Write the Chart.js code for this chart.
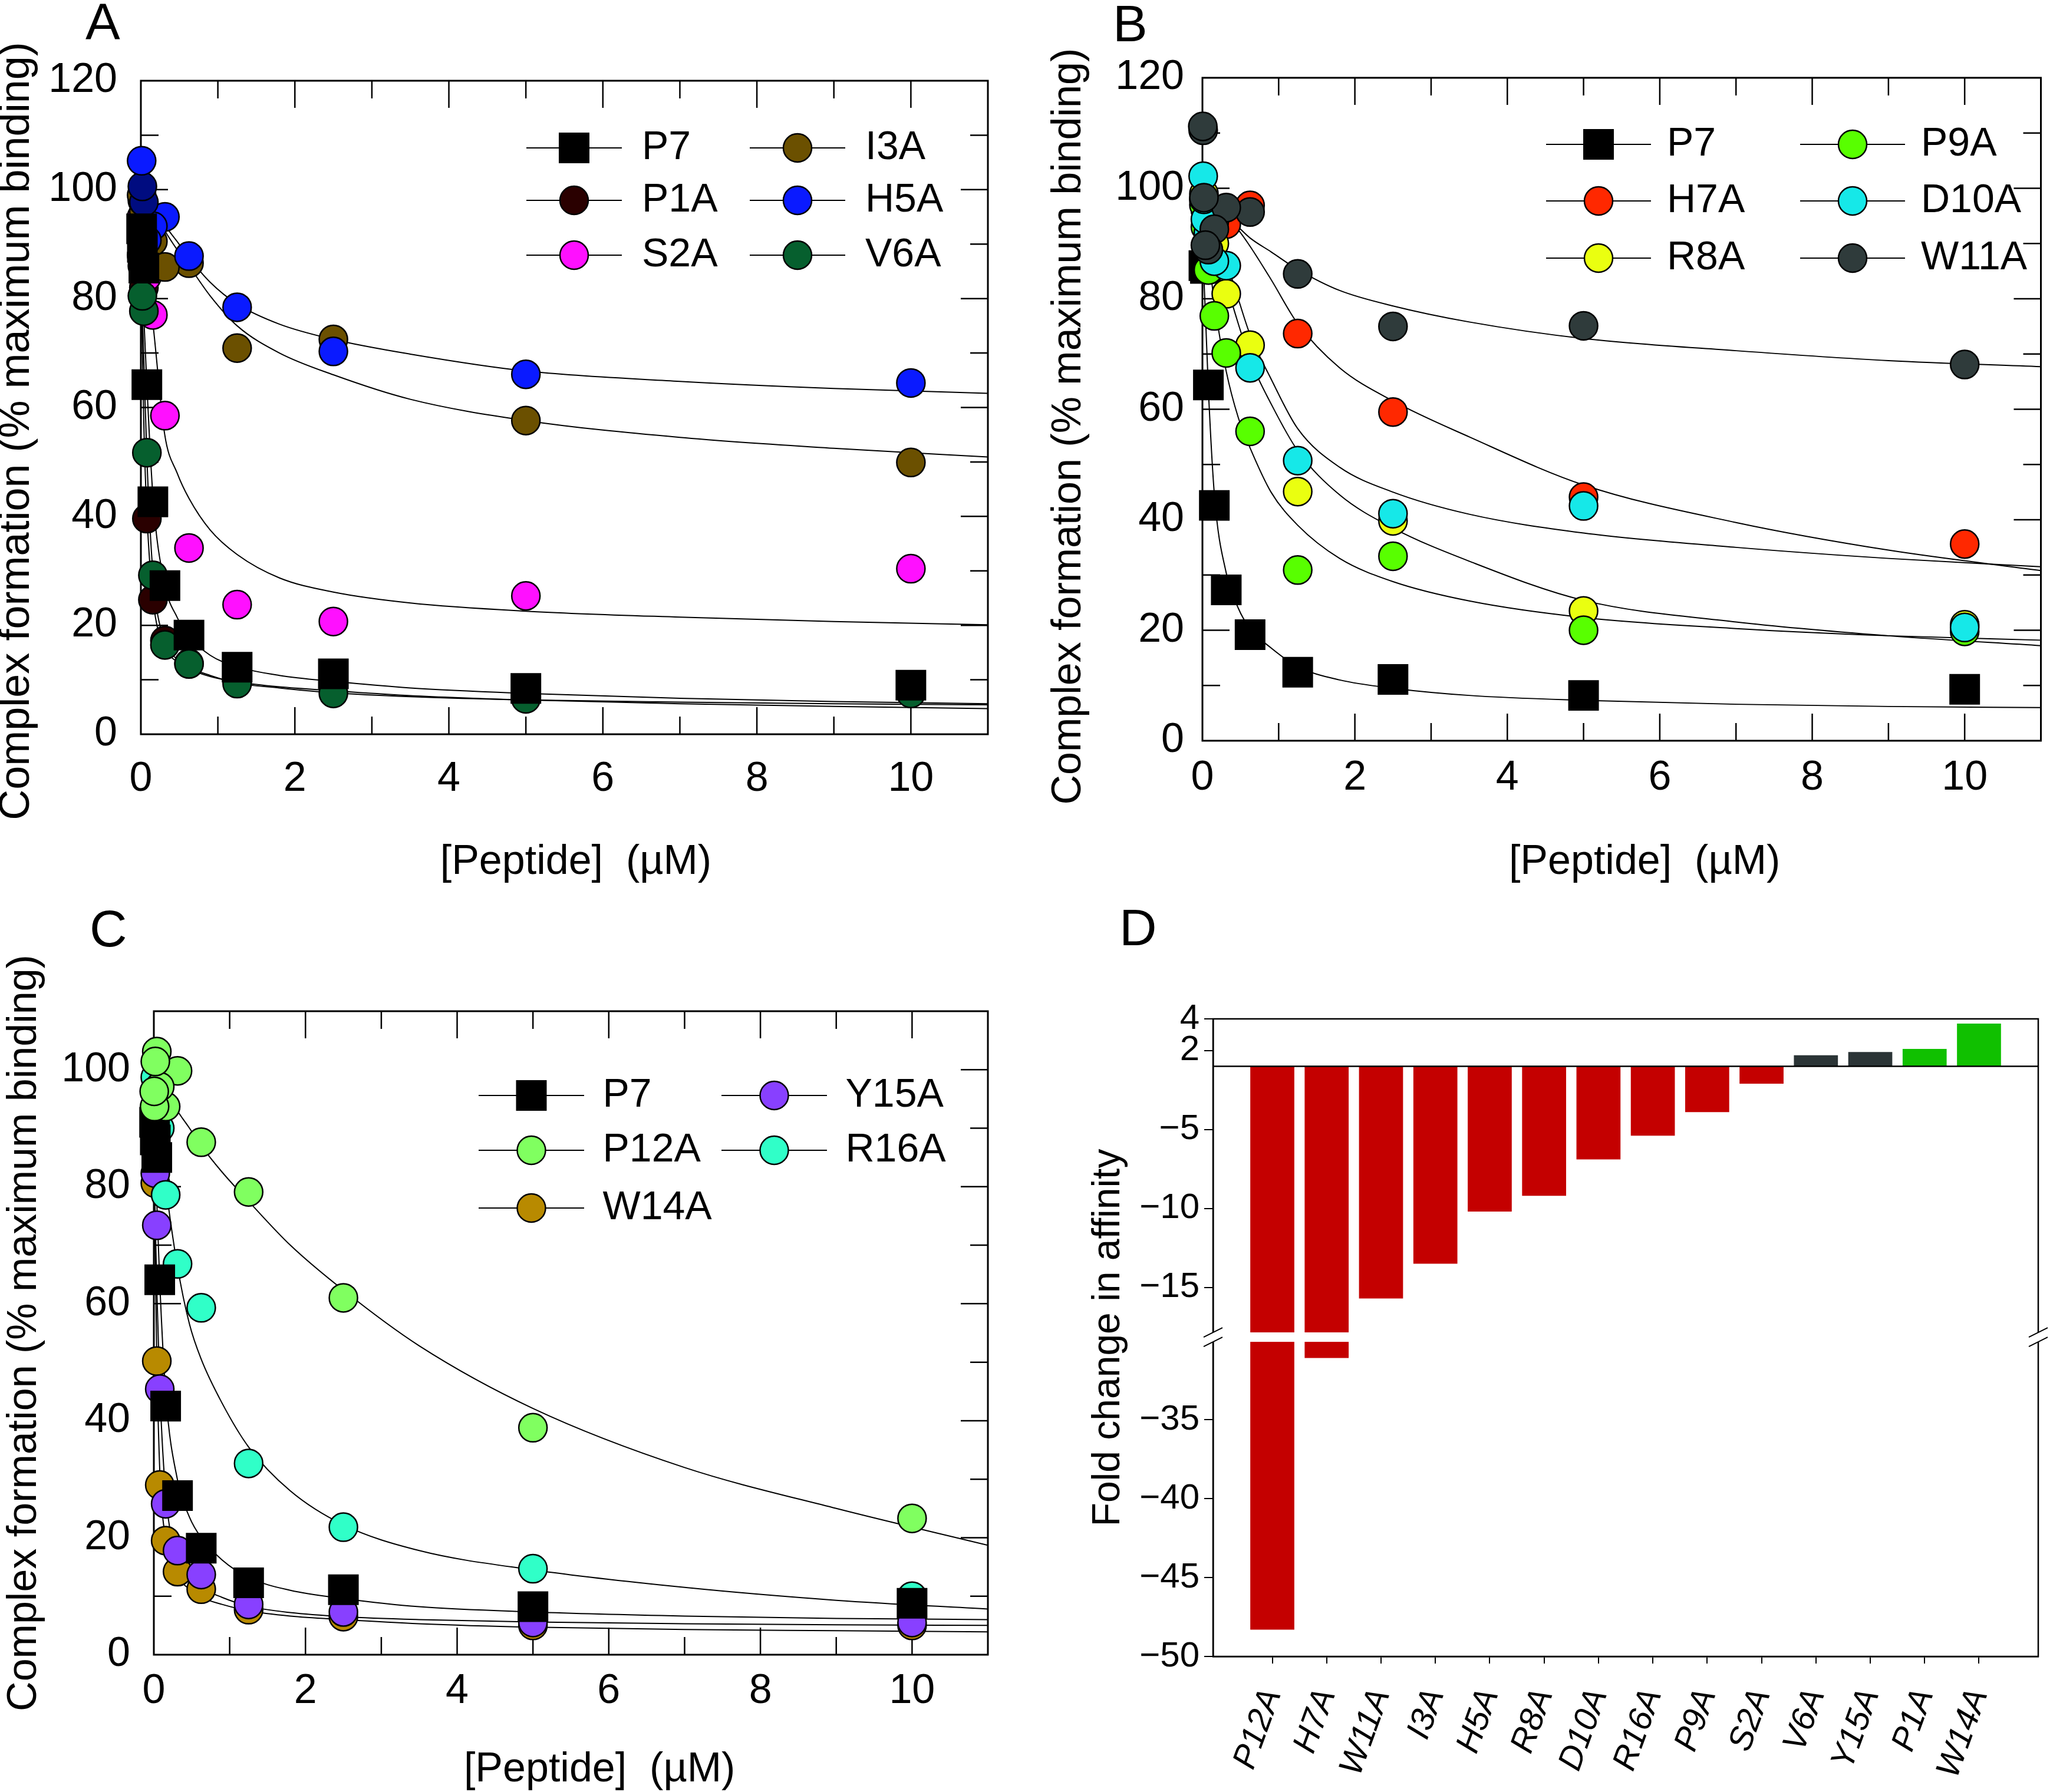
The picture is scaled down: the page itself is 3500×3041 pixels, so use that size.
<!DOCTYPE html>
<html>
<head>
<meta charset="utf-8">
<script src="https://cdn.jsdelivr.net/npm/chart.js@4.4.1/dist/chart.umd.min.js"></script>
<style>
  body { margin: 0; background: #fff; width: 3500px; height: 3041px; position: relative; overflow: hidden;
         font-family: "Liberation Sans", Arial, Helvetica, sans-serif; }
  .panel { position: absolute; }
  .tag { position: absolute; font-size: 88px; line-height: 88px; color: #000; }
</style>
</head>
<body>
<div class="panel" style="left:0px;top:0px"><canvas id="chartA" width="1750" height="1500"></canvas></div>
<div class="panel" style="left:1750px;top:0px"><canvas id="chartB" width="1750" height="1500"></canvas></div>
<div class="panel" style="left:0px;top:1500px"><canvas id="chartC" width="1750" height="1541"></canvas></div>
<div class="panel" style="left:1750px;top:1500px"><canvas id="chartD" width="1750" height="1541"></canvas></div>
<div class="tag" style="left:145px;top:-7px">A</div>
<div class="tag" style="left:1888px;top:-4px">B</div>
<div class="tag" style="left:152px;top:1532px">C</div>
<div class="tag" style="left:1899px;top:1530px">D</div>

<script>
// peptide concentrations (uM), highest first
const concentrations = [10, 5, 2.5, 1.25, 0.625, 0.3125, 0.156, 0.078, 0.039, 0.0195, 0.0098, 0.0049];
const fitX = [0, 0.04, 0.08, 0.16, 0.31, 0.47, 0.625, 0.9, 1.25, 1.8, 2.5, 3.5, 5, 7, 9, 11];

// Panel A - measured points
const aP7  = [9.0, 8.4, 11.1, 12.3, 18.2, 27.3, 42.7, 64.2, 85.6, 89.4, 92.8, null];
const aP1A = [8.0, 8.0, 9.0, 10.5, 13.0, 17.2, 24.7, 39.6, 82, 86, 88, null];
const aS2A = [30.4, 25.4, 20.7, 23.8, 34.2, 58.5, 77.0, 84, 88, 92, 95, null];
const aI3A = [49.9, 57.6, 72.5, 70.9, 86.5, 85.8, 90.5, 93, 96, 98, 99, null];
const aH5A = [64.5, 66.1, 70.3, 78.4, 87.8, 95.0, 93.3, 90.7, 97.7, 100.6, 105.3, null];
const aV6A = [7.5, 6.5, 7.5, 9.3, 12.9, 16.4, 29.2, 51.7, 77.7, 80.5, null, null];
// Panel A - fitted curves
const fitAP7  = [91, 76, 63.5, 43, 27.5, 21.5, 18, 14.5, 12.4, 10.8, 9.7, 8.5, 7.5, 6.6, 6.0, 5.6];
const fitAP1A = [86, 56, 40, 24.5, 16, 13.3, 12, 10.6, 9.6, 8.7, 8.0, 7.1, 6.3, 5.6, 5.1, 4.7];
const fitAS2A = [97, 92, 85, 75, 55, 48, 43.3, 37.5, 33, 28.7, 26.1, 24.1, 22.6, 21.5, 20.7, 20.1];
const fitAI3A = [100, 99.5, 98.5, 96.5, 92.5, 89, 86, 80.5, 75, 70, 66, 61.5, 57.6, 54.5, 52.5, 50.9];
const fitAH5A = [101, 100, 99, 97, 93.5, 90.5, 87.5, 83, 79, 75.3, 72.5, 69.8, 66.7, 64.8, 63.5, 62.6];
const fitAV6A = [86, 68, 50, 29, 17, 13.8, 12.3, 10.8, 9.4, 8.5, 7.6, 6.9, 6.3, 5.9, 5.6, 5.4];

// Panel B - measured points
const bP7   = [9.3, 8.2, 11.1, 12.4, 19.2, 27.3, 42.6, 64.4, 85.5, 86, null, null];
const bH7A  = [35.6, 44.1, 59.5, 73.7, 96.9, 93.5, 94, 96, 97, 98, null, null];
const bR8A  = [21.0, 23.5, 39.8, 45.1, 71.6, 80.9, 90, 92, 96, 99, null, null];
const bP9A  = [19.8, 20.0, 33.4, 30.9, 56.0, 70.2, 76.9, 85.2, 93, 97, null, null];
const bD10A = [20.5, 42.5, 41.1, 50.7, 67.5, 86.0, 86.8, 92, 94.4, 98, 102.2, null];
const bW11A = [68.1, 75.1, 75.0, 84.5, 95.7, 96.5, 92.6, 88.9, 89.7, 98.3, 110.5, 111.2];
// Panel B - fitted curves
const fitBP7   = [90, 77, 63, 44, 30.5, 24, 20.3, 16.8, 13.4, 11, 9.5, 8.2, 7.3, 6.6, 6.2, 6.0];
const fitBH7A  = [98, 97.8, 97.5, 97, 95, 92.5, 89.5, 83.5, 75.5, 67.5, 61.5, 55, 46.3, 39.5, 34.5, 30.8];
const fitBR8A  = [98, 96.5, 95, 91, 83, 75.5, 69, 61, 52.5, 44.5, 38.5, 32.5, 25.4, 21.5, 19, 17.2];
const fitBP9A  = [97, 93, 88, 79, 67, 58.5, 53, 45, 39, 33, 28.8, 25.3, 22.3, 20.3, 19, 18.2];
const fitBD10A = [98, 97, 96, 93.5, 87, 80, 73.5, 65.5, 56.5, 49.5, 45, 41, 37.6, 35, 33, 31.5];
const fitBW11A = [99, 98.7, 98.3, 97.3, 95.2, 93, 91, 88.5, 85.3, 81.5, 78.7, 75.8, 72.8, 70.6, 68.8, 67.7];

// Panel C - measured points
const cP7   = [8.8, 8.2, 11.1, 12.3, 18.2, 27.2, 42.5, 64.1, 85, 88, 91, null];
const cP12A = [23.3, 38.8, 61.0, 79.1, 87.6, 99.8, 93.7, 97.1, 103.1, 101.4, 93.7, 96.3];
const cW14A = [5.0, 5.0, 6.5, 7.7, 11.2, 14.2, 19.5, 29.0, 50.2, 80.6, null, null];
const cY15A = [5.5, 5.5, 7.3, 8.6, 13.7, 17.8, 25.8, 45.4, 73.4, 82.3, null, null];
const cR16A = [10.0, 14.7, 21.8, 32.7, 59.3, 66.8, 78.6, 90, 95, 98.7, null, null];
// Panel C - fitted curves
const fitCP7   = [90, 77, 63, 44, 30, 23.5, 20, 16.2, 13.2, 11, 9.6, 8.2, 7.3, 6.6, 6.2, 6.0];
const fitCP12A = [100, 99.5, 98.5, 96.5, 93, 90, 87, 82.5, 77.5, 70, 62.3, 52.8, 42.1, 32, 25, 18.7];
const fitCW14A = [84, 50, 31, 19.5, 13.5, 11.2, 9.8, 8.6, 7.5, 6.6, 6.0, 5.3, 4.7, 4.3, 4.1, 3.9];
const fitCY15A = [85, 62, 45, 27, 17, 13.5, 11.5, 9.8, 8.3, 7.2, 6.5, 6.0, 5.6, 5.3, 5.1, 5.0];
const fitCR16A = [100, 95, 90, 80, 66.5, 56.5, 50.5, 43, 35.5, 28, 22.2, 17.8, 14.5, 11.5, 9.3, 7.8];

// Panel D - fold change in affinity
const mutants = ["P12A", "H7A", "W11A", "I3A", "H5A", "R8A", "D10A", "R16A", "P9A", "S2A", "V6A", "Y15A", "P1A", "W14A"];
const foldChange = [-48.3, -31.1, -15.7, -13.5, -10.2, -9.2, -6.9, -5.4, -3.9, -2.1, 1.7, 1.9, 2.1, 3.7];
const foldTicks = [4, 2, -5, -10, -15, -35, -40, -45, -50];

const FONT = "'Liberation Sans', Arial, Helvetica, sans-serif";
Chart.defaults.font.family = FONT;
Chart.defaults.color = "#000";

function points(values) {
  const out = [];
  values.forEach((v, i) => {
    if (v !== null) out.push({ x: concentrations[i], y: v });
  });
  return out;
}

function fitLine(values) {
  return fitX.map((x, i) => ({ x: x, y: values[i] }));
}

function scatterSet(label, values, color, order, shape) {
  const isSquare = shape === "rect";
  return {
    type: "scatter",
    label: label,
    data: points(values),
    pointStyle: isSquare ? "rect" : "circle",
    pointRadius: isSquare ? 35 : 24,
    pointBackgroundColor: color,
    pointBorderColor: "#000",
    pointBorderWidth: 2.5,
    legendColor: color,
    order: order,
    clip: false,
  };
}

function curveSet(values) {
  return {
    type: "line",
    data: fitLine(values),
    borderColor: "#000",
    borderWidth: 2,
    pointRadius: 0,
    tension: 0.4,
    cubicInterpolationMode: "monotone",
    fill: false,
    order: 20,
  };
}

// frame around the plot with inward ticks on all four sides
const frameTicks = {
  id: "frameTicks",
  beforeDatasetsDraw(chart) {
    const { ctx, chartArea: a, scales } = chart;
    const x = scales.x, y = scales.y;
    ctx.save();
    ctx.strokeStyle = "#000";
    ctx.lineWidth = 3;
    ctx.strokeRect(a.left, a.top, a.right - a.left, a.bottom - a.top);
    ctx.lineWidth = 2.5;
    ctx.beginPath();
    for (let v = 1; v < x.max; v += 1) {
      const px = x.getPixelForValue(v);
      const len = v % 2 === 0 ? 46 : 30;
      ctx.moveTo(px, a.bottom); ctx.lineTo(px, a.bottom - len);
      ctx.moveTo(px, a.top); ctx.lineTo(px, a.top + len);
    }
    for (let v = 10; v < y.max; v += 10) {
      const py = y.getPixelForValue(v);
      const len = v % 20 === 0 ? 46 : 30;
      ctx.moveTo(a.left, py); ctx.lineTo(a.left + len, py);
      ctx.moveTo(a.right, py); ctx.lineTo(a.right - len, py);
    }
    ctx.stroke();
    ctx.restore();
  },
};

// two column key with a line through each marker
const keyBox = {
  id: "keyBox",
  afterDatasetsDraw(chart, args, opts) {
    const ctx = chart.ctx;
    ctx.save();
    opts.items.forEach((item) => {
      const ds = chart.data.datasets.find((d) => d.label === item.label);
      const x0 = opts.cols[item.col];
      const y0 = opts.rows[item.row];
      const cx = x0 + opts.lineLen / 2;
      ctx.strokeStyle = "#000";
      ctx.lineWidth = 2;
      ctx.beginPath();
      ctx.moveTo(x0, y0);
      ctx.lineTo(x0 + opts.lineLen, y0);
      ctx.stroke();
      ctx.fillStyle = ds.legendColor;
      ctx.lineWidth = 2.5;
      Chart.helpers.drawPoint(ctx, { pointStyle: ds.pointStyle, radius: ds.pointRadius, borderWidth: 2.5, rotation: 0 }, cx, y0);
      ctx.fillStyle = "#000";
      ctx.font = "68px " + FONT;
      ctx.textAlign = "left";
      ctx.textBaseline = "middle";
      ctx.fillText(item.label, cx + opts.textGap, y0);
    });
    ctx.restore();
  },
};

function curvePanel(id, datasets, p) {
  const yTicks = [];
  for (let v = 0; v <= p.yMax; v += 20) yTicks.push(v);
  return new Chart(document.getElementById(id), {
    type: "scatter",
    data: { datasets: datasets },
    options: {
      responsive: false,
      animation: false,
      events: [],
      layout: { padding: { left: 0, top: p.top, right: p.right, bottom: 0 } },
      plugins: { legend: { display: false }, tooltip: { enabled: false }, keyBox: p.key },
      scales: {
        x: {
          type: "linear", min: 0, max: 11,
          afterBuildTicks: (s) => { s.ticks = [0, 2, 4, 6, 8, 10].map((v) => ({ value: v })); },
          afterFit: (s) => { s.height = p.xAxisH; },
          grid: { display: false, drawTicks: false },
          border: { display: false },
          ticks: { font: { size: 70 }, padding: p.xPad, maxRotation: 0 },
          // leading spaces nudge the title right, as in the original
          title: { display: true, text: p.xLead + "[Peptide]  (\u00b5M)", font: { size: 70, lineHeight: 0.8 }, padding: { top: 0, bottom: p.xTitlePad } },
        },
        y: {
          type: "linear", min: 0, max: p.yMax,
          afterBuildTicks: (s) => { s.ticks = yTicks.map((v) => ({ value: v })); },
          afterFit: (s) => { s.width = p.yAxisW; },
          grid: { display: false, drawTicks: false },
          border: { display: false },
          ticks: { font: { size: 70 }, padding: p.yPad },
          title: { display: true, text: "Complex formation (% maximum binding)" + p.yTrail, font: { size: p.yTitleSize, lineHeight: 0.8 }, padding: { top: p.yTitlePad, bottom: 0 } },
        },
      },
    },
    plugins: [frameTicks, keyBox],
  });
}

// Panel A
const h5aShade = ["#0a1aff", "#0a1aff", "#0a1aff", "#0a1aff", "#0a1aff", "#0a1aff", "#0a1aff", "#0a1aff", "#000c80", "#000c80", "#0a1aff", "#0a1aff"];
const setH5A = scatterSet("H5A", aH5A, "#0a1aff", 2);
setH5A.pointBackgroundColor = h5aShade.filter((c, i) => aH5A[i] !== null);

curvePanel("chartA", [
  scatterSet("P7", aP7, "#000000", 1, "rect"),
  setH5A,
  scatterSet("V6A", aV6A, "#065f2e", 3),
  scatterSet("I3A", aI3A, "#6b5000", 4),
  scatterSet("S2A", aS2A, "#ff10ff", 5),
  scatterSet("P1A", aP1A, "#2a0000", 6),
  curveSet(fitAP7), curveSet(fitAP1A), curveSet(fitAS2A),
  curveSet(fitAI3A), curveSet(fitAH5A), curveSet(fitAV6A),
], {
  top: 137, right: 74, yAxisW: 239, xAxisH: 254, yMax: 120,
  xPad: 35, yPad: 40, xTitlePad: 8, yTitlePad: 0, yTitleSize: 72,
  xLead: "  ", yTrail: "    ",
  key: {
    cols: [893, 1272], rows: [251, 340, 433], lineLen: 162, textGap: 115,
    items: [
      { label: "P7", col: 0, row: 0 }, { label: "P1A", col: 0, row: 1 }, { label: "S2A", col: 0, row: 2 },
      { label: "I3A", col: 1, row: 0 }, { label: "H5A", col: 1, row: 1 }, { label: "V6A", col: 1, row: 2 },
    ],
  },
});

// Panel B
curvePanel("chartB", [
  scatterSet("W11A", bW11A, "#2f3b3b", 1),
  scatterSet("D10A", bD10A, "#16e8e8", 2),
  scatterSet("P9A", bP9A, "#58ff00", 3),
  scatterSet("R8A", bR8A, "#eaff10", 4),
  scatterSet("H7A", bH7A, "#ff2800", 5),
  scatterSet("P7", bP7, "#000000", 6, "rect"),
  curveSet(fitBP7), curveSet(fitBH7A), curveSet(fitBR8A),
  curveSet(fitBP9A), curveSet(fitBD10A), curveSet(fitBW11A),
], {
  top: 132, right: 5, yAxisW: 290, xAxisH: 243, yMax: 120,
  xPad: 22, yPad: 31, xTitlePad: 8, yTitlePad: 36, yTitleSize: 70,
  xLead: "    ", yTrail: "   ",
  key: {
    cols: [873, 1304], rows: [245, 341, 438], lineLen: 178, textGap: 116,
    items: [
      { label: "P7", col: 0, row: 0 }, { label: "H7A", col: 0, row: 1 }, { label: "R8A", col: 0, row: 2 },
      { label: "P9A", col: 1, row: 0 }, { label: "D10A", col: 1, row: 1 }, { label: "W11A", col: 1, row: 2 },
    ],
  },
});

// Panel C
curvePanel("chartC", [
  scatterSet("P12A", cP12A, "#80ff60", 1),
  scatterSet("P7", cP7, "#000000", 2, "rect"),
  scatterSet("R16A", cR16A, "#30ffc8", 3),
  scatterSet("Y15A", cY15A, "#8840ff", 4),
  scatterSet("W14A", cW14A, "#b88a00", 5),
  curveSet(fitCP7), curveSet(fitCP12A), curveSet(fitCW14A),
  curveSet(fitCY15A), curveSet(fitCR16A),
], {
  top: 216, right: 74, yAxisW: 261, xAxisH: 233, yMax: 110,
  xPad: 21, yPad: 40, xTitlePad: 9, yTitlePad: 14, yTitleSize: 70,
  xLead: "     ", yTrail: "",
  key: {
    cols: [812, 1224], rows: [359, 452, 550], lineLen: 179, textGap: 121,
    items: [
      { label: "P7", col: 0, row: 0 }, { label: "P12A", col: 0, row: 1 }, { label: "W14A", col: 0, row: 2 },
      { label: "Y15A", col: 1, row: 0 }, { label: "R16A", col: 1, row: 1 },
    ],
  },
});

// Panel D: broken axis, the band between -1 and 1 is skipped
// and the lower part (-30 .. -50) is shifted up under the break
function foldToAxis(v) {
  if (v > 0) return v - 1;
  if (v >= -18) return v + 1;
  return v + 12.63;
}
function fmtFold(v) {
  return v < 0 ? "\u2212" + Math.abs(v) : String(v);
}
const barColors = mutants.map((m, i) => {
  if (foldChange[i] < 0) return "#c40000";
  return i < 12 ? "#2b3436" : "#10c000";
});

const breakMarks = {
  id: "breakMarks",
  afterDatasetsDraw(chart) {
    const { ctx, chartArea: a, scales } = chart;
    const y = scales.y;
    ctx.save();
    ctx.strokeStyle = "#000";
    ctx.lineWidth = 2.5;
    ctx.strokeRect(a.left, a.top, a.right - a.left, a.bottom - a.top);
    const y0 = y.getPixelForValue(0);
    ctx.beginPath();
    ctx.moveTo(a.left, y0);
    ctx.lineTo(a.right, y0);
    ctx.stroke();
    // white gap across the bars and the frame
    const g1 = y.getPixelForValue(-16.85);
    const g2 = y.getPixelForValue(-17.45);
    ctx.fillStyle = "#fff";
    ctx.fillRect(a.left - 25, g1, a.right - a.left + 50, g2 - g1);
    ctx.lineWidth = 2;
    ctx.beginPath();
    [a.left, a.right].forEach((ax) => {
      [g1, g2].forEach((gy) => {
        ctx.moveTo(ax - 16, gy + 8);
        ctx.lineTo(ax + 16, gy - 8);
      });
    });
    ctx.stroke();
    ctx.restore();
  },
};

new Chart(document.getElementById("chartD"), {
  type: "bar",
  data: {
    datasets: [{
      data: mutants.map((m, i) => ({ x: i, y: foldToAxis(foldChange[i]) })),
      backgroundColor: barColors,
      borderWidth: 0,
      barPercentage: 0.81,
      categoryPercentage: 1,
    }],
  },
  options: {
    responsive: false,
    animation: false,
    events: [],
    layout: { padding: { left: 0, top: 229, right: 42, bottom: 0 } },
    plugins: { legend: { display: false }, tooltip: { enabled: false } },
    scales: {
      x: {
        type: "linear", min: -1.09, max: 14.09, offset: false,
        afterBuildTicks: (s) => { s.ticks = mutants.map((m, i) => ({ value: i })); },
        afterFit: (s) => { s.height = 230; },
        grid: { drawOnChartArea: false, drawTicks: true, tickLength: 12, color: "#000", lineWidth: 2, offset: false },
        border: { display: true, color: "#000", width: 2.5 },
        ticks: {
          autoSkip: false, maxRotation: 70, minRotation: 70, padding: 34,
          font: { size: 57, style: "italic" },
          callback: (v, i) => mutants[i],
        },
      },
      y: {
        type: "linear", min: -37.37, max: 3,
        afterBuildTicks: (s) => { s.ticks = foldTicks.map((v) => ({ value: foldToAxis(v) })); },
        afterFit: (s) => { s.width = 308; },
        grid: { drawOnChartArea: false, drawTicks: true, tickLength: 15, color: "#000", lineWidth: 2 },
        border: { display: true, color: "#000", width: 2.5 },
        ticks: { font: { size: 60 }, padding: 8, callback: (v, i) => fmtFold(foldTicks[i]) },
        title: { display: true, text: "Fold change in affinity", font: { size: 66, lineHeight: 0.8 }, padding: { top: 104, bottom: 0 } },
      },
    },
  },
  plugins: [breakMarks],
});
</script>
</body>
</html>
